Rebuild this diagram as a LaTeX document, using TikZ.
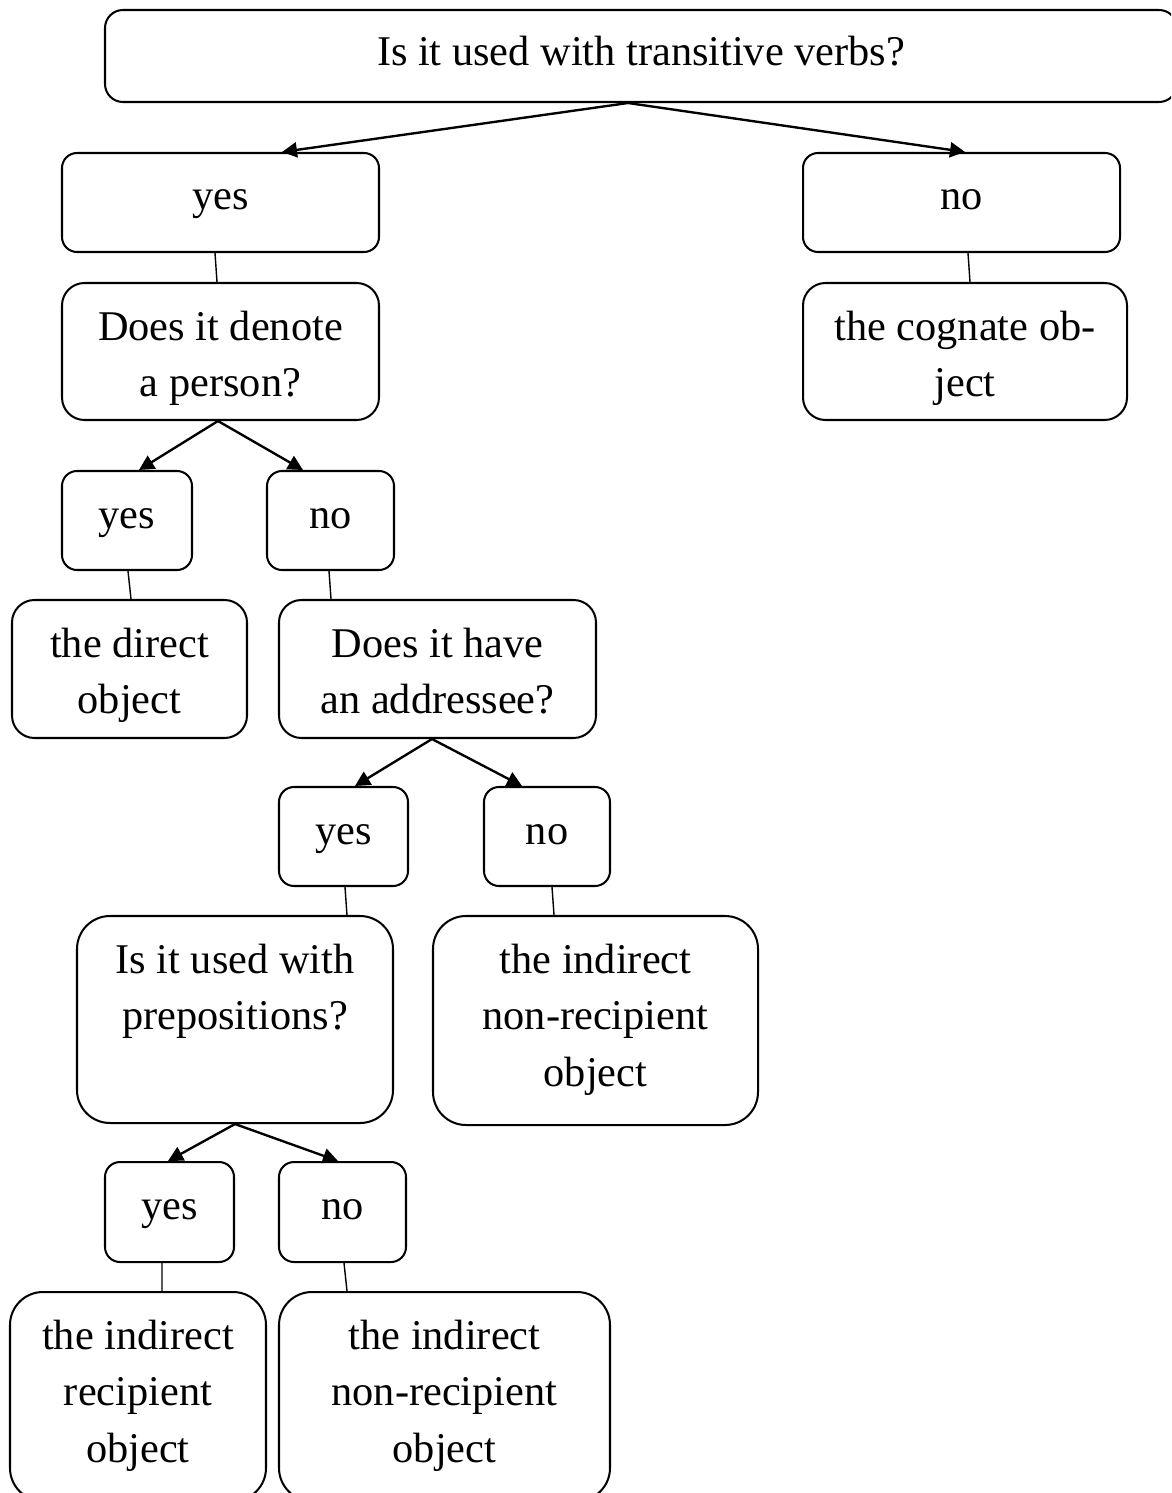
\documentclass[tikz,border=0pt]{standalone}
\usepackage{fontspec}
\setmainfont{Liberation Serif}
\usetikzlibrary{arrows.meta}
\begin{document}
\begin{tikzpicture}[x=0.02cm,y=-0.02cm,
  % width, height, corner radius, number of text lines; text starts near the top
  box/.style n args={4}{draw, line width=1.15pt, rounded corners=#3,
    minimum width=#1*0.02cm, minimum height=#2*0.02cm, inner sep=0pt,
    align=center, font=\fontsize{24.1pt}{32pt}\selectfont,
    text height={(57+(#4-1)*56.5)*0.02cm},
    text depth={(#2-57-(#4-1)*56.5)*0.02cm}},
  branch/.style={line width=1.35pt, -{Triangle[length=0.3cm,width=0.3cm]}},
  link/.style={line width=0.8pt}]
\useasboundingbox (0,0) rectangle (1171,1493);
\clip (0,0) rectangle (1171,1493);

% question and answer boxes
\node[box={1072}{92}{0.36cm}{1}, text height=56*0.02cm, text depth=36*0.02cm]
  (top) at (641,56) {Is it used with transitive verbs?};
\node[box={317}{99}{0.3cm}{1}] (yes1) at (220.5,202.5) {yes};
\node[box={317}{99}{0.3cm}{1}] (no1) at (961.5,202.5) {no};
\node[box={317}{137}{0.45cm}{2}] (denote) at (220.5,351.5) {Does it denote\\a person?};
\node[box={324}{137}{0.45cm}{2}] (cognate) at (965,351.5) {the cognate ob-\\ject};
\node[box={130}{99}{0.3cm}{1}] (yes2) at (127,520.5) {yes};
\node[box={127}{99}{0.3cm}{1}] (no2) at (330.5,520.5) {no};
\node[box={235}{138}{0.45cm}{2}] (direct) at (129.5,669) {the direct\\object};
\node[box={317}{138}{0.45cm}{2}] (addressee) at (437.5,669) {Does it have\\an addressee?};
\node[box={129}{99}{0.3cm}{1}] (yes3) at (343.5,836.5) {yes};
\node[box={126}{99}{0.3cm}{1}] (no3) at (547,836.5) {no};
\node[box={316}{207}{0.66cm}{2}] (prep) at (235,1019.5) {Is it used with\\prepositions?};
\node[box={325}{209}{0.66cm}{3}] (nonrecA) at (595.5,1020.5) {the indirect\\non-recipient\\object};
\node[box={129}{100}{0.3cm}{1}] (yes4) at (169.5,1212) {yes};
\node[box={127}{100}{0.3cm}{1}] (no4) at (342.5,1212) {no};
\node[box={256}{209}{0.66cm}{3}] (recip) at (138,1396.5) {the indirect\\recipient\\object};
\node[box={331}{209}{0.66cm}{3}] (nonrecB) at (444.5,1396.5) {the indirect\\non-recipient\\object};

% decisions
\draw[branch] ([xshift=-0.26cm]top.south) -- ([xshift=1.23cm]yes1.north);
\draw[branch] ([xshift=-0.26cm]top.south) -- ([xshift=0.07cm]no1.north);
\draw[branch] ([xshift=-0.05cm]denote.south) -- ([xshift=0.24cm]yes2.north);
\draw[branch] ([xshift=-0.05cm]denote.south) -- ([xshift=-0.55cm]no2.north);
\draw[branch] ([xshift=-0.11cm]addressee.south) -- ([xshift=0.23cm]yes3.north);
\draw[branch] ([xshift=-0.11cm]addressee.south) -- ([xshift=-0.5cm]no3.north);
\draw[branch] (prep.south) -- ([xshift=-0.03cm]yes4.north);
\draw[branch] (prep.south) -- ([xshift=-0.09cm]no4.north);

% answers leading on
\draw[link] ([xshift=-0.11cm]yes1.south) -- ([xshift=-0.07cm]denote.north);
\draw[link] ([xshift=0.13cm]no1.south) -- ([xshift=0.1cm]cognate.north);
\draw[link] ([xshift=0.02cm]yes2.south) -- ([xshift=0.03cm]direct.north);
\draw[link] ([xshift=-0.03cm]no2.south) -- ([xshift=-2.13cm]addressee.north);
\draw[link] ([xshift=0.03cm]yes3.south) -- ([xshift=2.24cm]prep.north);
\draw[link] ([xshift=0.1cm]no3.south) -- ([xshift=-0.83cm]nonrecA.north);
\draw[link] ([xshift=-0.15cm]yes4.south) -- ([xshift=0.48cm]recip.north);
\draw[link] ([xshift=0.03cm]no4.south) -- ([xshift=-1.95cm]nonrecB.north);
\end{tikzpicture}
\end{document}
